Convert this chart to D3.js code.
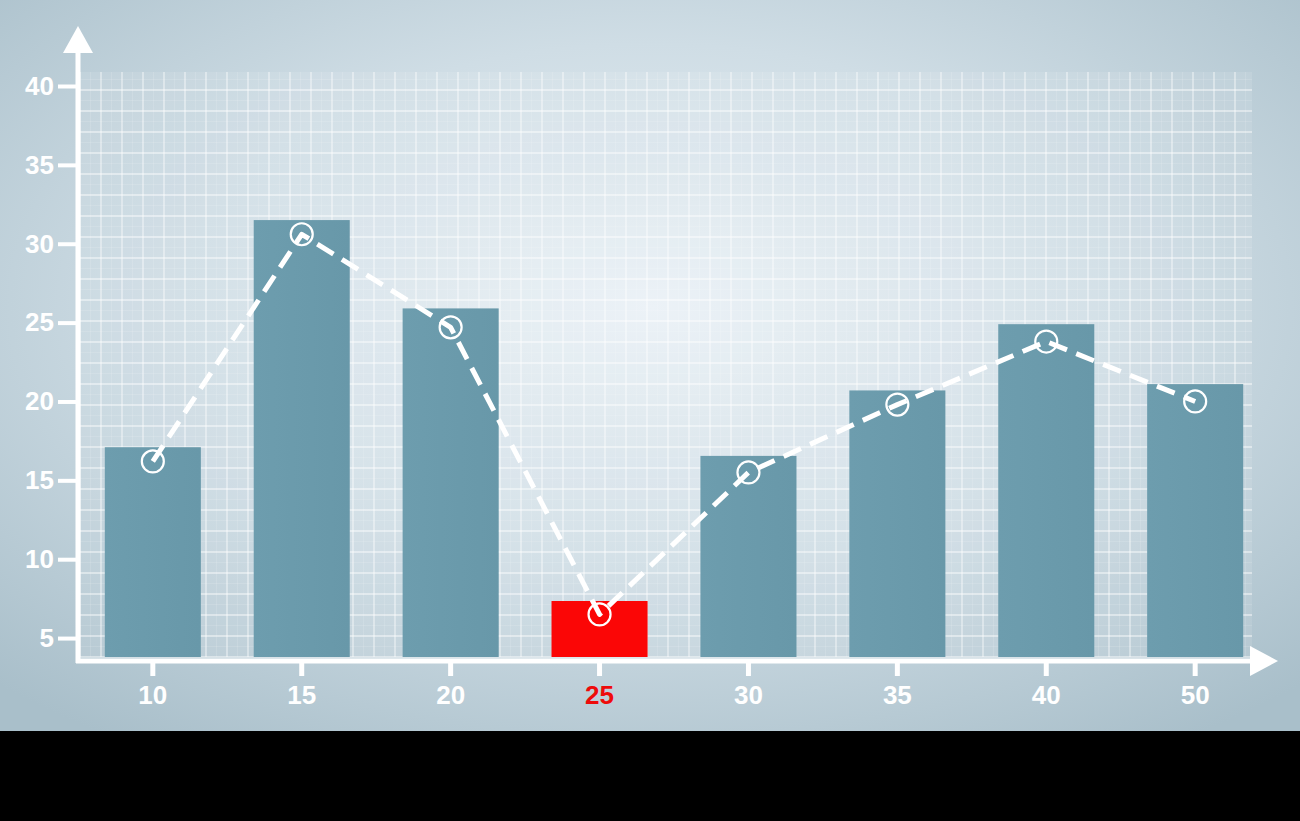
<!DOCTYPE html>
<html><head><meta charset="utf-8">
<script src="https://cdn.jsdelivr.net/npm/d3@7"></script>
<style>html,body{margin:0;padding:0;background:#000;}svg{display:block;}</style>
</head><body>
<script>
const categories = ["10","15","20","25","30","35","40","50"];
const barValues = [17.1, 31.5, 25.9, 7.35, 16.55, 20.7, 24.9, 21.1];
const lineValues = [16.2, 30.6, 24.7, 6.5, 15.5, 19.8, 23.8, 20.0];
const yTicks = [5, 10, 15, 20, 25, 30, 35, 40];
const highlight = "25";

const W = 1300, H = 821;
const svg = d3.select("body").append("svg").attr("width", W).attr("height", H);
const defs = svg.append("defs");

const bg = defs.append("radialGradient").attr("id","bg")
  .attr("cx","0.5").attr("cy","0.42").attr("r","0.72");
bg.append("stop").attr("offset","0").attr("stop-color","#eaf1f6");
bg.append("stop").attr("offset","0.5").attr("stop-color","#cfdde5");
bg.append("stop").attr("offset","1").attr("stop-color","#a9bfca");

const barG = defs.append("linearGradient").attr("id","barg").attr("x1","0").attr("x2","1").attr("y1","0").attr("y2","0");
barG.append("stop").attr("offset","0").attr("stop-color","#6d9dae");
barG.append("stop").attr("offset","1").attr("stop-color","#6898a9");

svg.append("rect").attr("width", W).attr("height", 731).attr("fill","url(#bg)");
svg.append("rect").attr("y", 731).attr("width", W).attr("height", H-731).attr("fill","#000");

// scales
const x = d3.scaleBand().domain(categories).range([78, 1270]).paddingInner(0.355).paddingOuter(0.18);
const y = d3.scaleLinear().domain([3.8, 40]).range([657, 86]);

// grid area (decorative)
const gx0 = 80, gx1 = 1252, gy0 = 72, gy1 = 657;
svg.append("rect").attr("x",gx0).attr("y",gy0).attr("width",gx1-gx0).attr("height",gy1-gy0)
  .attr("fill","#ffffff").attr("opacity",0.1);
const grid = svg.append("g");
const minor = 10.5;
d3.range(gx0, gx1 + 0.1, minor).forEach((v,i)=>{
  grid.append("line").attr("x1",v).attr("x2",v).attr("y1",gy0).attr("y2",gy1)
    .attr("stroke","#fff").attr("stroke-width", i%2 ? 0.7 : 1.3).attr("opacity", i%2 ? 0.18 : 0.6);
});
d3.range(gy1, gy0 - 0.1, -minor).forEach((v,i)=>{
  grid.append("line").attr("x1",gx0).attr("x2",gx1).attr("y1",v).attr("y2",v)
    .attr("stroke","#fff").attr("stroke-width", i%2 ? 0.7 : 1.3).attr("opacity", i%2 ? 0.18 : 0.6);
});

// bars
svg.append("g").selectAll("rect").data(categories).join("rect")
  .attr("x", d => x(d))
  .attr("width", x.bandwidth())
  .attr("y", (d,i) => y(barValues[i]))
  .attr("height", (d,i) => y(3.8) - y(barValues[i]))
  .attr("fill", d => d === highlight ? "#fb0606" : "url(#barg)");

// line
const cx = d => x(d) + x.bandwidth()/2;
const line = d3.line().x((d,i)=>cx(categories[i])).y(d=>y(d));
svg.append("path").datum(lineValues).attr("d", line)
  .attr("fill","none").attr("stroke","#fff").attr("stroke-width",5)
  .attr("stroke-dasharray","19,10").attr("stroke-linejoin","round");
svg.append("g").selectAll("circle").data(lineValues).join("circle")
  .attr("cx",(d,i)=>cx(categories[i])).attr("cy",d=>y(d)).attr("r",11)
  .attr("fill","none").attr("stroke","#fff").attr("stroke-width",2.2);

// axes
const axisColor = "#ffffff";
svg.append("line").attr("x1",78).attr("x2",78).attr("y1",48).attr("y2",663)
  .attr("stroke",axisColor).attr("stroke-width",5);
svg.append("path").attr("d","M78,26 L93,53 L63,53 Z").attr("fill",axisColor);
svg.append("line").attr("x1",76).attr("x2",1255).attr("y1",661).attr("y2",661)
  .attr("stroke",axisColor).attr("stroke-width",5);
svg.append("path").attr("d","M1278,661 L1250,646 L1250,676 Z").attr("fill",axisColor);

const font = "'Liberation Sans', Arial, sans-serif";
const yAxis = d3.axisLeft(y).tickValues(yTicks).tickSize(18).tickPadding(4);
const yg = svg.append("g").attr("transform","translate(76,0)").call(yAxis);
yg.select(".domain").remove();
yg.selectAll(".tick line").attr("stroke",axisColor).attr("stroke-width",4);
yg.selectAll(".tick text").attr("fill","#fff").attr("font-family",font)
  .attr("font-weight","bold").attr("font-size",26);

const xAxis = d3.axisBottom(x).tickSize(15).tickPadding(10);
const xg = svg.append("g").attr("transform","translate(0,661)").call(xAxis);
xg.select(".domain").remove();
xg.selectAll(".tick line").attr("stroke",axisColor).attr("stroke-width",5);
xg.selectAll(".tick text").attr("fill", d => d === highlight ? "#ee0b0b" : "#fff")
  .attr("font-family",font).attr("font-weight","bold").attr("font-size",26);
</script>
</body></html>
